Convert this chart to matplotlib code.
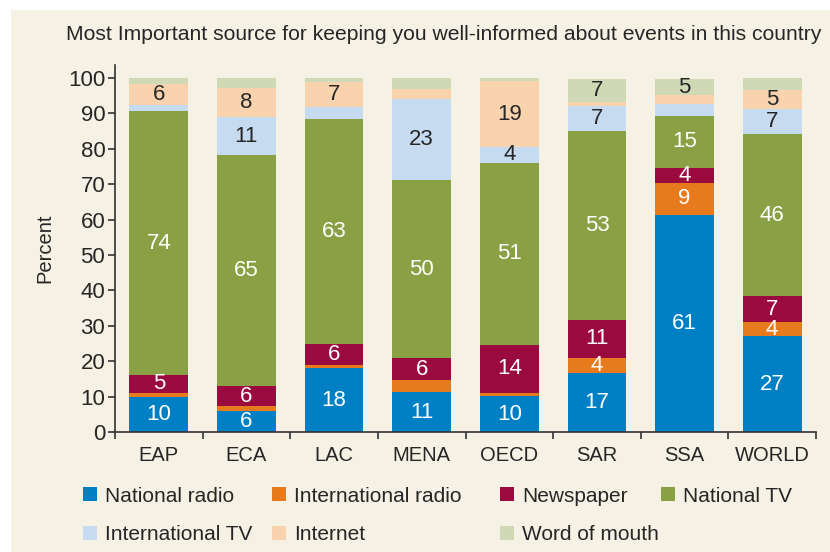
import numpy as np
import matplotlib
matplotlib.use("Agg")
import matplotlib.pyplot as plt
from matplotlib.patches import Rectangle

plt.rcParams['font.family'] = ['Liberation Sans', 'DejaVu Sans']

# regions on the x axis
regions = ["EAP", "ECA", "LAC", "MENA", "OECD", "SAR", "SSA", "WORLD"]

# share of respondents (%) per source, bottom to top of each bar
national_radio = [10, 6, 18, 11.3, 10.1, 16.8, 61.4, 27]
international_radio = [1.1, 1.3, 0.9, 3.3, 0.9, 4.2, 9.0, 4.2]
newspaper = [5.1, 5.7, 6.1, 6.2, 13.7, 10.7, 4.3, 7.1]
national_tv = [74.4, 65.2, 63.4, 50.3, 51.4, 53.4, 14.7, 46]
international_tv = [1.8, 10.7, 3.4, 23, 4.4, 6.9, 3.3, 7]
internet = [5.8, 8.2, 7.1, 2.9, 18.7, 1.2, 2.4, 5.4]
word_of_mouth = [1.8, 3.0, 1.0, 3.0, 0.8, 6.6, 4.7, 3.3]

series_names = ["National radio", "International radio", "Newspaper", "National TV",
                "International TV", "Internet", "Word of mouth"]
series = [national_radio, international_radio, newspaper, national_tv,
          international_tv, internet, word_of_mouth]
colors = ["#0080C4", "#E87A1E", "#9B0A3E", "#8AA045", "#C6DBF0", "#F9D2AE", "#D0D9B5"]
label_colors = ["white", "white", "white", "white", "#262626", "#262626", "#262626"]

bg = "#F5F1E4"
txt = "#262626"
W, H = 830, 552

fig = plt.figure(figsize=(W / 100, H / 100), dpi=100, facecolor="white")
# beige panel behind everything
fig.patches.append(Rectangle((11 / W, 0), 1, 1 - 10 / H, transform=fig.transFigure,
                             facecolor=bg, edgecolor="none", zorder=-10))

ax = fig.add_axes([115 / W, 1 - 432 / H, (816 - 115) / W, (432 - 65) / H])
ax.set_facecolor(bg)

x = np.arange(len(regions))
bottom = np.zeros(len(regions))
for name, vals, col, lc in zip(series_names, series, colors, label_colors):
    vals = np.array(vals, dtype=float)
    ax.bar(x, vals, 0.67, bottom=bottom, color=col, label=name, zorder=2)
    for i, v in enumerate(vals):
        if round(v) >= 4:
            ax.text(x[i], bottom[i] + v / 2, f"{round(v)}", ha="center", va="center",
                    color=lc, fontsize=16, zorder=3)
    bottom += vals

ax.set_xlim(-0.5, len(regions) - 0.5)
ax.set_ylim(0, 103.7)
ax.set_yticks(np.arange(0, 101, 10))
ax.set_xticks(x)
ax.set_xticklabels(regions)
ax.set_xticks(np.arange(-0.5, len(regions), 1), minor=True)
ax.tick_params(axis="x", which="major", length=0, pad=10, labelsize=14.5, colors=txt)
ax.tick_params(axis="x", which="minor", length=5, width=1.2, color="#333333")
ax.tick_params(axis="y", length=5, width=1.2, color="#333333", labelsize=16, labelcolor=txt, pad=2)
for s in ["top", "right"]:
    ax.spines[s].set_visible(False)
for s in ["left", "bottom"]:
    ax.spines[s].set_color("#333333")
    ax.spines[s].set_linewidth(1.2)
ax.set_ylabel("Percent", fontsize=14.5, color=txt, labelpad=10)

fig.text(443.5 / W, 1 - 34 / H,
         "Most Important source for keeping you well-informed about events in this country",
         ha="center", va="center", fontsize=15.2, color=txt)

# legend, two rows at fixed column positions like the original
leg_x = [83, 272, 500, 661, 83, 272, 500]
leg_y = [494, 494, 494, 494, 533, 533, 533]
box = 14
for name, col, lx, ly in zip(series_names, colors, leg_x, leg_y):
    fig.patches.append(Rectangle((lx / W, 1 - (ly + box / 2) / H), box / W, box / H,
                                 transform=fig.transFigure, facecolor=col, edgecolor="none"))
    fig.text((lx + box + 8) / W, 1 - ly / H, name, ha="left", va="center_baseline",
             fontsize=15, color=txt)

fig.savefig("out.png", dpi=100, facecolor="white")
